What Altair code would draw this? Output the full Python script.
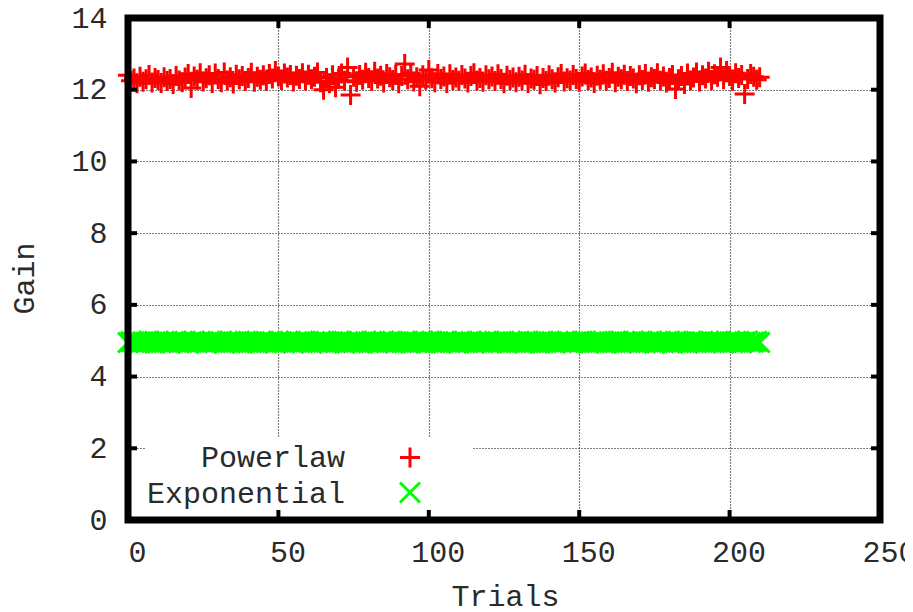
import altair as alt
import pandas as pd

# ---------------- data ----------------
trials = list(range(0, 211))

powerlaw = [
    12.40, 12.25, 12.31, 12.18, 12.36, 12.22, 12.29, 12.41, 12.20, 12.33,
    12.27, 12.19, 12.35, 12.24, 12.30, 12.16, 12.38, 12.26, 12.21, 12.34,
    12.44, 12.05, 12.37, 12.28, 12.46, 12.23, 12.32, 12.40, 12.19, 12.45,
    12.30, 12.21, 12.48, 12.26, 12.35, 12.17, 12.42, 12.29, 12.38, 12.24,
    12.33, 12.47, 12.22, 12.36, 12.28, 12.40, 12.25, 12.44, 12.31, 12.52,
    12.37, 12.27, 12.45, 12.34, 12.41, 12.23, 12.39, 12.30, 12.46, 12.26,
    12.42, 12.29, 12.36, 12.48, 12.21, 12.00, 12.33, 12.18, 12.40, 12.07,
    12.30, 12.45, 12.25, 12.62, 11.85, 12.36, 12.22, 12.41, 12.28, 12.47,
    12.33, 12.24, 12.50, 12.31, 12.39, 12.20, 12.44, 12.35, 12.27, 12.42,
    12.18, 12.38, 12.72, 12.29, 12.46, 12.23, 12.35, 12.10, 12.40, 12.28,
    12.55, 12.32, 12.21, 12.44, 12.30, 12.37, 12.19, 12.43, 12.27, 12.34,
    12.25, 12.41, 12.31, 12.20, 12.38, 12.46, 12.26, 12.33, 12.22, 12.40,
    12.29, 12.37, 12.24, 12.43, 12.30, 12.18, 12.39, 12.27, 12.34, 12.21,
    12.36, 12.26, 12.42, 12.19, 12.31, 12.28, 12.38, 12.15, 12.33, 12.24,
    12.40, 12.29, 12.20, 12.35, 12.44, 12.23, 12.32, 12.26, 12.41, 12.30,
    12.22, 12.37, 12.45, 12.27, 12.34, 12.19, 12.39, 12.28, 12.43, 12.25,
    12.33, 12.47, 12.21, 12.36, 12.29, 12.42, 12.24, 12.38, 12.31, 12.18,
    12.40, 12.27, 12.44, 12.22, 12.35, 12.30, 12.46, 12.25, 12.37, 12.20,
    12.33, 12.41, 12.02, 12.29, 12.38, 12.16, 12.45, 12.26, 12.34, 12.48,
    12.23, 12.40, 12.31, 12.50, 12.27, 12.43, 12.36, 12.62, 12.29, 12.52,
    12.38, 12.25, 12.46, 12.33, 12.41, 11.88, 12.30, 12.44, 12.36, 12.28,
    12.35,
]

exponential = [
    4.95, 4.97, 4.96, 4.98, 4.94, 4.97, 4.95, 4.99, 4.96, 4.94,
    4.97, 4.95, 4.98, 4.96, 4.94, 4.97, 4.99, 4.95, 4.96, 4.98,
    4.94, 4.97, 4.96, 4.95, 4.98, 4.97, 4.94, 4.96, 4.99, 4.95,
    4.97, 4.96, 4.94, 4.98, 4.95, 4.97, 4.96, 4.99, 4.94, 4.96,
    4.98, 4.95, 4.97, 4.94, 4.96, 4.98, 4.95, 4.97, 4.96, 4.94,
    4.99, 4.96, 4.95, 4.97, 4.98, 4.94, 4.96, 4.97, 4.95, 4.98,
    4.96, 4.94, 4.97, 4.95, 4.99, 4.96, 4.98, 4.94, 4.97, 4.95,
    4.96, 4.98, 4.94, 4.97, 4.96, 4.95, 4.99, 4.96, 4.94, 4.97,
    4.95, 4.98, 4.96, 4.94, 4.97, 4.99, 4.95, 4.96, 4.98, 4.94,
    4.97, 4.95, 4.96, 4.98, 4.94, 4.97, 4.96, 4.95, 4.99, 4.94,
    4.96, 4.98, 4.95, 4.97, 4.94, 4.96, 4.99, 4.95, 4.97, 4.96,
    4.94, 4.98, 4.96, 4.95, 4.97, 4.94, 4.98, 4.96, 4.95, 4.97,
    4.99, 4.94, 4.96, 4.97, 4.95, 4.98, 4.94, 4.96, 4.97, 4.95,
    4.98, 4.96, 4.94, 4.99, 4.95, 4.97, 4.96, 4.94, 4.98, 4.95,
    4.97, 4.96, 4.94, 4.98, 4.95, 4.97, 4.99, 4.96, 4.94, 4.97,
    4.95, 4.98, 4.96, 4.94, 4.97, 4.95, 4.98, 4.96, 4.99, 4.94,
    4.96, 4.97, 4.95, 4.98, 4.94, 4.96, 4.97, 4.95, 4.99, 4.96,
    4.94, 4.98, 4.95, 4.97, 4.96, 4.94, 4.98, 4.96, 4.95, 4.97,
    4.99, 4.94, 4.96, 4.98, 4.95, 4.97, 4.94, 4.96, 4.98, 4.95,
    4.97, 4.96, 4.94, 4.99, 4.95, 4.97, 4.96, 4.98, 4.94, 4.96,
    4.97, 4.95, 4.98, 4.96, 4.94, 4.97, 4.99, 4.95, 4.96, 4.98,
    4.95,
]

series_names = ["Powerlaw", "Exponential"]
series_colors = ["#ff0000", "#00ff00"]
plus_path = "M-1,0L1,0M0,-1L0,1"
cross_path = "M-1,-1L1,1M1,-1L-1,1"

x_title = "Trials"
y_title = "Gain"
x_ticks = [0, 50, 100, 150, 200, 250]
y_ticks = [0, 2, 4, 6, 8, 10, 12, 14]
x_domain = [0, 250]
y_domain = [0, 14]

# ---------------- tables ----------------
df = pd.concat([
    pd.DataFrame({"Trials": trials, "Gain": powerlaw, "series": "Powerlaw"}),
    pd.DataFrame({"Trials": trials, "Gain": exponential, "series": "Exponential"}),
])

W, H = 752, 502
FONT = "Liberation Mono"
FS = 30
TXT = "#2a2a2a"

xs = alt.Scale(domain=x_domain, nice=False, zero=False)
ys = alt.Scale(domain=y_domain, nice=False, zero=False)

color_scale = alt.Scale(domain=series_names, range=series_colors)
shape_scale = alt.Scale(domain=series_names, range=[plus_path, cross_path])

points = alt.Chart(df).mark_point(filled=False, strokeWidth=3, size=400, opacity=1).encode(
    x=alt.X("Trials:Q", scale=xs, title=x_title,
            axis=alt.Axis(values=x_ticks, grid=True, domain=False, ticks=False, tickSize=0,
                          labelPadding=17, labelOffset=9, labelFlush=False,
                          titleX=377, titleY=85, titleAlign="center", titleBaseline="alphabetic")),
    y=alt.Y("Gain:Q", scale=ys, title=y_title,
            axis=alt.Axis(values=y_ticks, grid=True, domain=False, ticks=False, tickSize=0,
                          labelPadding=21, labelFlush=False,
                          titleX=-95, titleY=260, titleAngle=-90, titleAlign="center",
                          titleBaseline="alphabetic")),
    color=alt.Color("series:N", scale=color_scale, legend=None),
    shape=alt.Shape("series:N", scale=shape_scale, legend=None),
)

# legend box (drawn manually in gnuplot style: label on the left, symbol on the right)
legend_box = alt.Chart().mark_rect(fill="white").encode(
    x=alt.value(17), x2=alt.value(345), y=alt.value(419), y2=alt.value(H - 3)
)
leg_text1 = alt.Chart().mark_text(text=series_names[0], font=FONT, fontSize=FS, align="right",
                                  baseline="alphabetic", color=TXT).encode(
    x=alt.value(217), y=alt.value(449))
leg_text2 = alt.Chart().mark_text(text=series_names[1], font=FONT, fontSize=FS, align="right",
                                  baseline="alphabetic", color=TXT).encode(
    x=alt.value(217), y=alt.value(485))
leg_sym1 = alt.Chart().mark_point(shape=plus_path, filled=False, strokeWidth=3, size=400,
                                  color=series_colors[0], opacity=1).encode(
    x=alt.value(282), y=alt.value(439.5))
leg_sym2 = alt.Chart().mark_point(shape=cross_path, filled=False, strokeWidth=3, size=400,
                                  color=series_colors[1], opacity=1).encode(
    x=alt.value(282), y=alt.value(474.5))

# inward ticks on all four sides (gnuplot style)
tick_len_x = 0.28
tick_len_y = 3.0
xt_bottom = pd.DataFrame({"t": x_ticks, "a": y_domain[0], "b": y_domain[0] + tick_len_x})
xt_top = pd.DataFrame({"t": x_ticks, "a": y_domain[1], "b": y_domain[1] - tick_len_x})
yt_left = pd.DataFrame({"t": y_ticks, "a": x_domain[0], "b": x_domain[0] + tick_len_y})
yt_right = pd.DataFrame({"t": y_ticks, "a": x_domain[1], "b": x_domain[1] - tick_len_y})

def xtick_layer(d):
    return alt.Chart(d).mark_rule(color="black", strokeWidth=4).encode(
        x=alt.X("t:Q", scale=xs, title=x_title),
        y=alt.Y("a:Q", scale=ys, title=y_title),
        y2=alt.Y2("b:Q", title=y_title))

def ytick_layer(d):
    return alt.Chart(d).mark_rule(color="black", strokeWidth=4).encode(
        y=alt.Y("t:Q", scale=ys, title=y_title),
        x=alt.X("a:Q", scale=xs, title=x_title),
        x2=alt.X2("b:Q", title=x_title))

frame = alt.Chart().mark_rect(filled=False, stroke="black", strokeWidth=7).encode(
    x=alt.datum(x_domain[0], scale=xs), x2=alt.datum(x_domain[1]),
    y=alt.datum(y_domain[0], scale=ys), y2=alt.datum(y_domain[1]),
)

chart = alt.layer(
    points, legend_box, leg_text1, leg_text2, leg_sym1, leg_sym2,
    xtick_layer(xt_bottom), xtick_layer(xt_top), ytick_layer(yt_left), ytick_layer(yt_right),
    frame,
).properties(
    width=W, height=H,
    autosize=alt.AutoSizeParams(type="none"),
    padding={"left": 120, "top": 10, "right": 25, "bottom": 86},
).configure_view(
    stroke=None
).configure_axis(
    labelFont=FONT, labelFontSize=FS, labelColor=TXT,
    titleFont=FONT, titleFontSize=FS, titleColor=TXT, titleFontWeight="normal",
    gridColor="black", gridDash=[1, 2], gridWidth=1.2, gridOpacity=1,
)

chart.save("out.html", embed_options={"renderer": "svg", "actions": False})
